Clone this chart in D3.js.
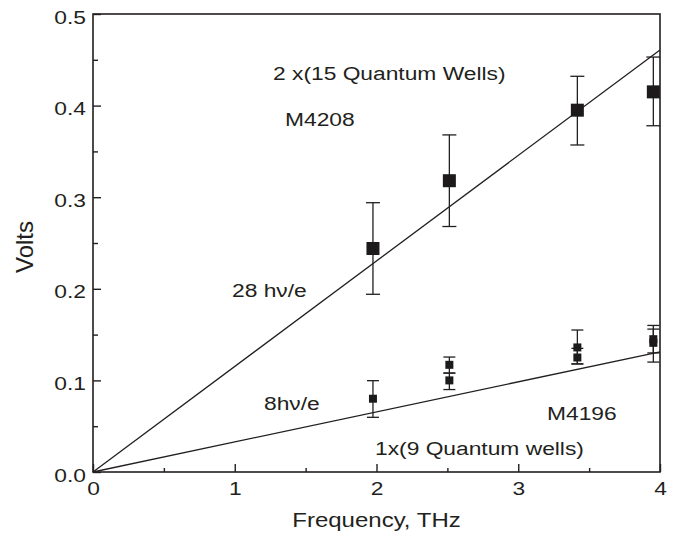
<!DOCTYPE html>
<html>
<head>
<meta charset="utf-8">
<script src="https://cdn.jsdelivr.net/npm/d3@7"></script>
<style>
  body { margin: 0; background: #fff; }
  text { font-family: "Liberation Sans", Arial, sans-serif; fill: #231f20; }
</style>
</head>
<body>
<div id="chart"></div>
<script>
// upper sample M4208, 2 x (15 wells)
var freqA = [1.975, 2.514, 3.417, 3.953];
var voltsA = [0.244, 0.318, 0.395, 0.415];
var hiA = [0.294, 0.368, 0.432, 0.453];
var loA = [0.194, 0.268, 0.357, 0.378];

// lower sample M4196, 1 x (9 wells)
var freqB = [1.975, 2.514, 2.514, 3.417, 3.417, 3.953, 3.953];
var voltsB = [0.080, 0.117, 0.100, 0.136, 0.125, 0.145, 0.141];
var hiB = [0.0997, 0.1255, 0.108, 0.155, 0.135, 0.160, 0.156];
var loB = [0.0597, 0.108, 0.090, 0.118, 0.118, 0.130, 0.120];

// slopes in volts per THz (28 hv/e and 8 hv/e)
var slopes = [0.1152, 0.0328];
var fitX = [0, 4];

var xTicks = [0, 1, 2, 3, 4];
var yTicks = [0, 0.1, 0.2, 0.3, 0.4, 0.5];

var width = 678, height = 538;
var margin = { top: 14, right: 18, bottom: 66, left: 93 };
var sx = 1.2; // text in the scan is a bit wide

var svg = d3.select("#chart").append("svg")
  .attr("width", width)
  .attr("height", height);

var x = d3.scaleLinear().domain([0, 4]).range([margin.left, width - margin.right]);
var y = d3.scaleLinear().domain([0, 0.5]).range([height - margin.bottom, margin.top]);

var ink = "#231f20";

// frame
svg.append("rect")
  .attr("x", x(0)).attr("y", y(0.5))
  .attr("width", x(4) - x(0)).attr("height", y(0) - y(0.5))
  .attr("fill", "none").attr("stroke", ink).attr("stroke-width", 1.6);

// inward ticks, major + minor
var xAxis = svg.append("g").attr("transform", "translate(0," + y(0) + ")")
  .call(d3.axisBottom(x).tickValues(xTicks).tickSizeInner(-8).tickSizeOuter(0).tickFormat(d3.format("d")));
svg.append("g").attr("transform", "translate(0," + y(0) + ")")
  .call(d3.axisBottom(x).tickValues([0.5, 1.5, 2.5, 3.5]).tickSizeInner(-4).tickSizeOuter(0).tickFormat(""));
var yAxis = svg.append("g").attr("transform", "translate(" + x(0) + ",0)")
  .call(d3.axisLeft(y).tickValues(yTicks).tickSizeInner(-8).tickSizeOuter(0).tickFormat(d3.format(".1f")));
svg.append("g").attr("transform", "translate(" + x(0) + ",0)")
  .call(d3.axisLeft(y).tickValues([0.05, 0.15, 0.25, 0.35, 0.45]).tickSizeInner(-5).tickSizeOuter(0).tickFormat(""));

svg.selectAll(".domain").remove();
svg.selectAll(".tick line").attr("stroke", ink).attr("stroke-width", 1.4);
svg.selectAll(".tick text").style("font-size", "19px").attr("fill", ink);
xAxis.selectAll(".tick text")
  .attr("y", null).attr("dy", null)
  .attr("transform", "translate(0,23) scale(" + sx + ",1)");
yAxis.selectAll(".tick text")
  .attr("x", null).attr("dy", null)
  .attr("transform", "translate(-7,9) scale(" + sx + ",1)");

// fit lines
svg.selectAll("line.fit").data(slopes).enter().append("line")
  .attr("class", "fit")
  .attr("x1", x(fitX[0])).attr("y1", function (s) { return y(s * fitX[0]); })
  .attr("x2", x(fitX[1])).attr("y2", function (s) { return y(s * fitX[1]); })
  .attr("stroke", ink).attr("stroke-width", 1.3);

function drawSeries(fx, fv, hi, lo, cap, size) {
  var g = svg.append("g");
  var idx = d3.range(fx.length);
  g.selectAll("line.bar").data(idx).enter().append("line")
    .attr("x1", function (i) { return x(fx[i]); }).attr("x2", function (i) { return x(fx[i]); })
    .attr("y1", function (i) { return y(hi[i]); }).attr("y2", function (i) { return y(lo[i]); })
    .attr("stroke", ink).attr("stroke-width", 1.3);
  [hi, lo].forEach(function (arr) {
    g.selectAll(null).data(idx).enter().append("line")
      .attr("x1", function (i) { return x(fx[i]) - cap; }).attr("x2", function (i) { return x(fx[i]) + cap; })
      .attr("y1", function (i) { return y(arr[i]); }).attr("y2", function (i) { return y(arr[i]); })
      .attr("stroke", ink).attr("stroke-width", 1.3);
  });
  g.selectAll("rect").data(idx).enter().append("rect")
    .attr("x", function (i) { return x(fx[i]) - size / 2; })
    .attr("y", function (i) { return y(fv[i]) - size / 2; })
    .attr("width", size).attr("height", size)
    .attr("fill", "#1c1a1b");
}
drawSeries(freqA, voltsA, hiA, loA, 7, 13);
drawSeries(freqB, voltsB, hiB, loB, 6, 8);

// annotations
var notes = [
  { t: "2 x(15 Quantum Wells)", x: 273, y: 80 },
  { t: "M4208", x: 285, y: 126 },
  { t: "28 h\u03bd/e", x: 232, y: 297 },
  { t: "8h\u03bd/e", x: 264, y: 410 },
  { t: "M4196", x: 547, y: 420 },
  { t: "1x(9 Quantum wells)", x: 375, y: 455 }
];
svg.selectAll("text.note").data(notes).enter().append("text")
  .attr("class", "note")
  .attr("transform", function (d) { return "translate(" + d.x + "," + d.y + ") scale(" + sx + ",1)"; })
  .style("font-size", "19px")
  .text(function (d) { return d.t; });

// axis titles
svg.append("text")
  .attr("transform", "translate(" + (x(0) + x(4)) / 2 + ",527) scale(" + sx + ",1)")
  .attr("text-anchor", "middle").style("font-size", "20px")
  .text("Frequency, THz");
svg.append("text")
  .attr("transform", "translate(33," + (y(0.25) + 4) + ") rotate(-90)")
  .attr("text-anchor", "middle").style("font-size", "24px")
  .text("Volts");
</script>
</body>
</html>
